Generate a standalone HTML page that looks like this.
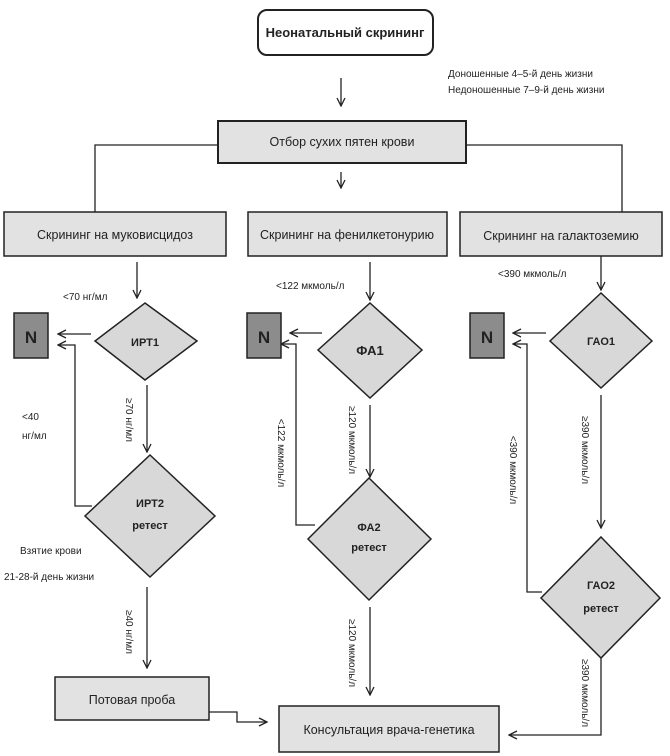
<!DOCTYPE html>
<html><head><meta charset="utf-8"><style>body{margin:0;background:#fff}svg{display:block}text{font-family:"Liberation Sans","DejaVu Sans",sans-serif;fill:#222}</style></head><body>
<svg width="670" height="756" viewBox="0 0 670 756" xmlns="http://www.w3.org/2000/svg">
<defs><marker id="a" markerWidth="10" markerHeight="10" refX="9" refY="5" orient="auto" markerUnits="userSpaceOnUse"><path d="M1,1 L9,5 L1,9" fill="none" stroke="#222" stroke-width="1.3"/></marker></defs>
<g stroke="#222" stroke-width="1.3" fill="none">
<line x1="341" y1="78" x2="341" y2="106" marker-end="url(#a)"/>
<polyline points="218,145 95,145 95,212"/>
<polyline points="466,145 622,145 622,212"/>
<line x1="341" y1="172" x2="341" y2="188" marker-end="url(#a)"/>
<line x1="137" y1="262" x2="137" y2="298" marker-end="url(#a)"/>
<line x1="370" y1="262" x2="370" y2="300" marker-end="url(#a)"/>
<line x1="601" y1="255" x2="601" y2="290" marker-end="url(#a)"/>
<line x1="91" y1="334" x2="58" y2="334" marker-end="url(#a)"/>
<polyline points="92,506 75,506 75,345 58,345" marker-end="url(#a)"/>
<line x1="147" y1="385" x2="147" y2="452" marker-end="url(#a)"/>
<line x1="147" y1="587" x2="147" y2="668" marker-end="url(#a)"/>
<polyline points="209,712 237,712 237,722 267,722" marker-end="url(#a)"/>
<line x1="322" y1="333" x2="290" y2="333" marker-end="url(#a)"/>
<polyline points="315,525 296,525 296,344 281,344" marker-end="url(#a)"/>
<line x1="370" y1="405" x2="370" y2="477" marker-end="url(#a)"/>
<line x1="370" y1="607" x2="370" y2="695" marker-end="url(#a)"/>
<line x1="546" y1="333" x2="513" y2="333" marker-end="url(#a)"/>
<polyline points="542,592 527,592 527,344 513,344" marker-end="url(#a)"/>
<line x1="601" y1="395" x2="601" y2="528" marker-end="url(#a)"/>
<polyline points="601,658 601,735 509,735" marker-end="url(#a)"/>
</g>
<g stroke="#222" stroke-width="2">
<rect x="258" y="10" width="175" height="45" rx="9" fill="#fff"/>
<rect x="218" y="121" width="248" height="42" fill="#e2e2e2"/>
<rect x="4" y="212" width="222" height="44" fill="#e2e2e2" stroke-width="1.5"/>
<rect x="248" y="212" width="199" height="44" fill="#e2e2e2" stroke-width="1.5"/>
<rect x="460" y="212" width="202" height="44" fill="#e2e2e2" stroke-width="1.5"/>
<rect x="14" y="313" width="34" height="45" fill="#8c8c8c" stroke-width="1.5"/>
<rect x="247" y="313" width="34" height="45" fill="#8c8c8c" stroke-width="1.5"/>
<rect x="470" y="313" width="34" height="45" fill="#8c8c8c" stroke-width="1.5"/>
<polygon points="145,303 197,341 145,380 95,341" fill="#d8d8d8" stroke-width="1.5"/>
<polygon points="150,455 215,516 150,577 85,516" fill="#d8d8d8" stroke-width="1.5"/>
<polygon points="370,303 422,350 370,398 318,350" fill="#d8d8d8" stroke-width="1.5"/>
<polygon points="369,478 431,539 369,600 308,539" fill="#d8d8d8" stroke-width="1.5"/>
<polygon points="601,293 652,341 601,388 550,341" fill="#d8d8d8" stroke-width="1.5"/>
<polygon points="601,537 660,598 601,658 541,598" fill="#d8d8d8" stroke-width="1.5"/>
<rect x="55" y="677" width="154" height="43" fill="#e2e2e2" stroke-width="1.5"/>
<rect x="279" y="706" width="220" height="46" fill="#e2e2e2" stroke-width="1.5"/>
</g>
<g font-size="12.5" text-anchor="middle">
<text x="345" y="37" font-weight="bold" font-size="13">Неонатальный скрининг</text>
<text x="342" y="146">Отбор сухих пятен крови</text>
<text x="115" y="239">Скрининг на муковисцидоз</text>
<text x="347" y="239">Скрининг на фенилкетонурию</text>
<text x="561" y="240">Скрининг на галактоземию</text>
<text x="132" y="704">Потовая проба</text>
<text x="389" y="734">Консультация врача-генетика</text>
</g>
<g font-size="11" text-anchor="middle" font-weight="bold">
<text x="145" y="346">ИРТ1</text>
<text x="150" y="507">ИРТ2</text><text x="150" y="529">ретест</text>
<text x="370" y="355" font-size="13">ФА1</text>
<text x="369" y="531">ФА2</text><text x="369" y="551">ретест</text>
<text x="601" y="345">ГАО1</text>
<text x="601" y="589">ГАО2</text><text x="601" y="612">ретест</text>
<text x="31" y="343" font-size="17" fill="#111">N</text>
<text x="264" y="343" font-size="17" fill="#111">N</text>
<text x="487" y="343" font-size="17" fill="#111">N</text>
</g>
<g font-size="10">
<text x="448" y="77">Доношенные 4–5-й день жизни</text>
<text x="448" y="93">Недоношенные 7–9-й день жизни</text>
<text x="63" y="300">&lt;70 нг/мл</text>
<text x="276" y="289">&lt;122 мкмоль/л</text>
<text x="498" y="277">&lt;390 мкмоль/л</text>
<text x="22" y="420">&lt;40</text>
<text x="22" y="439">нг/мл</text>
<text x="20" y="554">Взятие крови</text>
<text x="4" y="580">21-28-й день жизни</text>
<text transform="translate(126,420) rotate(90)" text-anchor="middle">≥70 нг/мл</text>
<text transform="translate(126,632) rotate(90)" text-anchor="middle">≥40 нг/мл</text>
<text transform="translate(349,440) rotate(90)" text-anchor="middle">≥120 мкмоль/л</text>
<text transform="translate(278,453) rotate(90)" text-anchor="middle">&lt;122 мкмоль/л</text>
<text transform="translate(349,653) rotate(90)" text-anchor="middle">≥120 мкмоль/л</text>
<text transform="translate(582,450) rotate(90)" text-anchor="middle">≥390 мкмоль/л</text>
<text transform="translate(510,470) rotate(90)" text-anchor="middle">&lt;390 мкмоль/л</text>
<text transform="translate(582,693) rotate(90)" text-anchor="middle">≥390 мкмоль/л</text>
</g>
</svg>
</body></html>
